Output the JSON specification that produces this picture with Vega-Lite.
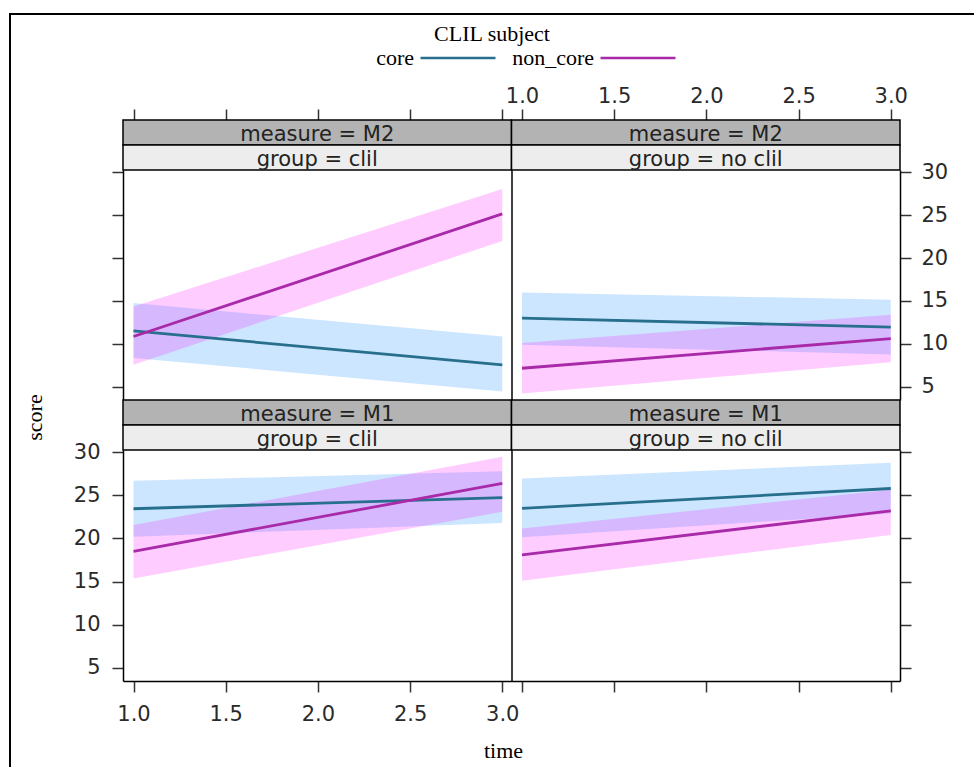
{
  "$schema": "https://vega.github.io/schema/vega-lite/v6.json",
  "width": 972,
  "height": 761,
  "autosize": {"type": "none"},
  "padding": {"left": 10, "top": 14, "right": -8, "bottom": -8},
  "background": "white",
  "config": {
    "view": {"stroke": "black", "strokeWidth": 2},
    "axis": {
      "grid": false,
      "labelFont": "DejaVu Sans",
      "labelFontSize": 21,
      "labelColor": "#2a2a2a",
      "tickColor": "#333333",
      "tickWidth": 1.5,
      "tickSize": 11,
      "domainColor": "black",
      "domainWidth": 1.5,
      "labelFlush": false,
      "labelOverlap": false,
      "titleFont": "Liberation Serif",
      "titleFontSize": 22,
      "titleFontWeight": "normal",
      "titleColor": "black"
    },
    "legend": {
      "orient": "none",
      "legendX": 409,
      "legendY": 10,
      "direction": "horizontal",
      "titleFont": "Liberation Serif",
      "titleFontSize": 22,
      "titleFontWeight": "normal",
      "titleColor": "black",
      "titleAnchor": "middle",
      "titleAlign": "right",
      "titlePadding": -27,
      "labelFont": "Liberation Serif",
      "labelFontSize": 22,
      "labelColor": "black",
      "labelAlign": "right",
      "labelOffset": -83,
      "symbolType": "stroke",
      "symbolSize": 5625,
      "symbolStrokeWidth": 2.5,
      "columnPadding": 11
    }
  },
  "datasets": {
    "fits": [
      {"measure": "M2", "group": "clil", "subject": "core", "time": 1, "fit": 11.5, "lower": 8.35, "upper": 14.75},
      {"measure": "M2", "group": "clil", "subject": "core", "time": 3, "fit": 7.55, "lower": 4.45, "upper": 10.85},
      {"measure": "M2", "group": "clil", "subject": "non_core", "time": 1, "fit": 10.85, "lower": 7.55, "upper": 14.35},
      {"measure": "M2", "group": "clil", "subject": "non_core", "time": 3, "fit": 25.15, "lower": 22.0, "upper": 28.05},
      {"measure": "M2", "group": "no_clil", "subject": "core", "time": 1, "fit": 13.0, "lower": 9.9, "upper": 16.0},
      {"measure": "M2", "group": "no_clil", "subject": "core", "time": 3, "fit": 11.95, "lower": 8.75, "upper": 15.15},
      {"measure": "M2", "group": "no_clil", "subject": "non_core", "time": 1, "fit": 7.15, "lower": 4.2, "upper": 10.1},
      {"measure": "M2", "group": "no_clil", "subject": "non_core", "time": 3, "fit": 10.6, "lower": 7.85, "upper": 13.4},
      {"measure": "M1", "group": "clil", "subject": "core", "time": 1, "fit": 23.45, "lower": 20.2, "upper": 26.7},
      {"measure": "M1", "group": "clil", "subject": "core", "time": 3, "fit": 24.75, "lower": 21.8, "upper": 27.8},
      {"measure": "M1", "group": "clil", "subject": "non_core", "time": 1, "fit": 18.5, "lower": 15.35, "upper": 21.55},
      {"measure": "M1", "group": "clil", "subject": "non_core", "time": 3, "fit": 26.4, "lower": 23.1, "upper": 29.5},
      {"measure": "M1", "group": "no_clil", "subject": "core", "time": 1, "fit": 23.5, "lower": 20.15, "upper": 26.95},
      {"measure": "M1", "group": "no_clil", "subject": "core", "time": 3, "fit": 25.8, "lower": 22.9, "upper": 28.8},
      {"measure": "M1", "group": "no_clil", "subject": "non_core", "time": 1, "fit": 18.1, "lower": 15.1, "upper": 21.15},
      {"measure": "M1", "group": "no_clil", "subject": "non_core", "time": 3, "fit": 23.2, "lower": 20.4, "upper": 25.65}
    ],
    "strips": [
      {"row": "top", "group": "clil", "level": "measure", "label": "measure = M2"},
      {"row": "top", "group": "clil", "level": "group", "label": "group = clil"},
      {"row": "top", "group": "no_clil", "level": "measure", "label": "measure = M2"},
      {"row": "top", "group": "no_clil", "level": "group", "label": "group = no clil"},
      {"row": "bottom", "group": "clil", "level": "measure", "label": "measure = M1"},
      {"row": "bottom", "group": "clil", "level": "group", "label": "group = clil"},
      {"row": "bottom", "group": "no_clil", "level": "measure", "label": "measure = M1"},
      {"row": "bottom", "group": "no_clil", "level": "group", "label": "group = no clil"}
    ]
  },
  "layer": [
    {
      "data": {"name": "strips"},
      "transform": [{"filter": "datum.row === 'top'"}],
      "encoding": {
        "x": {"field": "group", "type": "nominal", "scale": {"domain": ["clil", "no_clil"], "range": [113, 890], "paddingInner": 0, "paddingOuter": 0}, "axis": null},
        "y": {"field": "level", "type": "nominal", "scale": {"domain": ["measure", "group"], "range": [106, 156], "paddingInner": 0, "paddingOuter": 0}, "axis": null}
      },
      "layer": [
        {"mark": {"type": "rect", "stroke": "black", "strokeWidth": 1.5, "opacity": 1},
         "encoding": {"fill": {"condition": {"test": "datum.level === 'measure'", "value": "#b3b3b3"}, "value": "#ededed"}}},
        {"mark": {"type": "text", "font": "DejaVu Sans", "fontSize": 21, "fill": "#222222", "baseline": "alphabetic", "dy": 8.5},
         "encoding": {"text": {"field": "label"}}}
      ]
    },
    {
      "data": {"name": "strips"},
      "transform": [{"filter": "datum.row === 'bottom'"}],
      "encoding": {
        "x": {"field": "group", "type": "nominal", "scale": {"domain": ["clil", "no_clil"], "range": [113, 890], "paddingInner": 0, "paddingOuter": 0}, "axis": null},
        "y": {"field": "level", "type": "nominal", "scale": {"domain": ["measure", "group"], "range": [386, 436], "paddingInner": 0, "paddingOuter": 0}, "axis": null}
      },
      "layer": [
        {"mark": {"type": "rect", "stroke": "black", "strokeWidth": 1.5, "opacity": 1},
         "encoding": {"fill": {"condition": {"test": "datum.level === 'measure'", "value": "#b3b3b3"}, "value": "#ededed"}}},
        {"mark": {"type": "text", "font": "DejaVu Sans", "fontSize": 21, "fill": "#222222", "baseline": "alphabetic", "dy": 8.5},
         "encoding": {"text": {"field": "label"}}}
      ]
    },
    {
      "data": {"name": "fits"},
      "transform": [{"filter": "datum.measure === 'M2' && datum.group === 'clil'"}],
      "encoding": {
        "x": {"field": "time", "type": "quantitative",
              "scale": {"domain": [0.943, 3.05], "range": [113, 501.5], "nice": false, "zero": false},
              "axis": {"orient": "top", "offset": -106, "values": [1, 1.5, 2, 2.5, 3], "labels": false, "domain": false, "title": null}}
      },
      "layer": [
        {"mark": {"type": "area", "fillOpacity": 0.2, "opacity": 1},
         "encoding": {
           "y": {"field": "lower", "type": "quantitative", "scale": {"domain": [3.45, 30.27], "range": [386, 156], "nice": false, "zero": false},
                 "axis": {"orient": "left", "offset": -113, "values": [5, 10, 15, 20, 25, 30], "labels": false, "domain": true, "title": null}},
           "y2": {"field": "upper"},
           "fill": {"field": "subject", "type": "nominal", "scale": {"domain": ["non_core", "core"], "range": ["#ff00ff", "#0080ff"]}, "legend": null}
         }},
        {"mark": {"type": "line", "strokeWidth": 2.8, "opacity": 1},
         "encoding": {
           "y": {"field": "fit", "type": "quantitative", "scale": {"domain": [3.45, 30.27], "range": [386, 156], "nice": false, "zero": false},
                 "axis": {"orient": "left", "offset": -113, "values": [5, 10, 15, 20, 25, 30], "labels": false, "domain": true, "title": null}},
           "stroke": {"field": "subject", "type": "nominal", "scale": {"domain": ["core", "non_core"], "range": ["#276f8c", "#a82aa8"]},
                      "legend": {"title": "CLIL subject"}}
         }}
      ]
    },
    {
      "data": {"name": "fits"},
      "transform": [{"filter": "datum.measure === 'M2' && datum.group === 'no_clil'"}],
      "encoding": {
        "x": {"field": "time", "type": "quantitative",
              "scale": {"domain": [0.943, 3.05], "range": [501.5, 890], "nice": false, "zero": false},
              "axis": {"orient": "top", "offset": -106, "values": [1, 1.5, 2, 2.5, 3], "format": ".1f", "labelPadding": 3, "domain": false, "title": null}}
      },
      "layer": [
        {"mark": {"type": "area", "fillOpacity": 0.2, "opacity": 1},
         "encoding": {
           "y": {"field": "lower", "type": "quantitative", "scale": {"domain": [3.45, 30.27], "range": [386, 156], "nice": false, "zero": false},
                 "axis": {"orient": "right", "offset": -82, "values": [5, 10, 15, 20, 25, 30], "labelPadding": 10, "domain": true, "title": null}},
           "y2": {"field": "upper"},
           "fill": {"field": "subject", "type": "nominal", "scale": {"domain": ["non_core", "core"], "range": ["#ff00ff", "#0080ff"]}, "legend": null}
         }},
        {"mark": {"type": "line", "strokeWidth": 2.8, "opacity": 1},
         "encoding": {
           "y": {"field": "fit", "type": "quantitative", "scale": {"domain": [3.45, 30.27], "range": [386, 156], "nice": false, "zero": false},
                 "axis": {"orient": "left", "offset": -501.5, "ticks": false, "labels": false, "domain": true, "title": null}},
           "stroke": {"field": "subject", "type": "nominal", "scale": {"domain": ["core", "non_core"], "range": ["#276f8c", "#a82aa8"]},
                      "legend": {"title": "CLIL subject"}}
         }}
      ],
      "resolve": {"scale": {"y": "independent"}, "axis": {"y": "independent"}}
    },
    {
      "data": {"name": "fits"},
      "transform": [{"filter": "datum.measure === 'M1' && datum.group === 'clil'"}],
      "encoding": {
        "x": {"field": "time", "type": "quantitative",
              "scale": {"domain": [0.943, 3.05], "range": [113, 501.5], "nice": false, "zero": false},
              "axis": {"orient": "bottom", "offset": -94, "values": [1, 1.5, 2, 2.5, 3], "format": ".1f", "labelPadding": 11, "domain": true,
                       "title": "time", "titleX": 493, "titleY": 69, "titleBaseline": "middle", "titleAlign": "center"}}
      },
      "layer": [
        {"mark": {"type": "area", "fillOpacity": 0.2, "opacity": 1},
         "encoding": {
           "y": {"field": "lower", "type": "quantitative", "scale": {"domain": [3.45, 30.27], "range": [667, 436], "nice": false, "zero": false},
                 "axis": {"orient": "left", "offset": -113, "values": [5, 10, 15, 20, 25, 30], "labelPadding": 12, "domain": true,
                          "title": "score", "titleX": -89, "titleY": 403, "titleBaseline": "middle", "titleAlign": "center", "titleAngle": -90}},
           "y2": {"field": "upper"},
           "fill": {"field": "subject", "type": "nominal", "scale": {"domain": ["non_core", "core"], "range": ["#ff00ff", "#0080ff"]}, "legend": null}
         }},
        {"mark": {"type": "line", "strokeWidth": 2.8, "opacity": 1},
         "encoding": {
           "y": {"field": "fit", "type": "quantitative", "scale": {"domain": [3.45, 30.27], "range": [667, 436], "nice": false, "zero": false},
                 "axis": {"orient": "left", "offset": -113, "values": [5, 10, 15, 20, 25, 30], "labelPadding": 12, "domain": true,
                          "title": "score", "titleX": -89, "titleY": 403, "titleBaseline": "middle", "titleAlign": "center", "titleAngle": -90}},
           "stroke": {"field": "subject", "type": "nominal", "scale": {"domain": ["core", "non_core"], "range": ["#276f8c", "#a82aa8"]},
                      "legend": {"title": "CLIL subject"}}
         }}
      ]
    },
    {
      "data": {"name": "fits"},
      "transform": [{"filter": "datum.measure === 'M1' && datum.group === 'no_clil'"}],
      "encoding": {
        "x": {"field": "time", "type": "quantitative",
              "scale": {"domain": [0.943, 3.05], "range": [501.5, 890], "nice": false, "zero": false},
              "axis": {"orient": "bottom", "offset": -94, "values": [1, 1.5, 2, 2.5, 3], "labels": false, "domain": true, "title": null}}
      },
      "layer": [
        {"mark": {"type": "area", "fillOpacity": 0.2, "opacity": 1},
         "encoding": {
           "y": {"field": "lower", "type": "quantitative", "scale": {"domain": [3.45, 30.27], "range": [667, 436], "nice": false, "zero": false},
                 "axis": {"orient": "right", "offset": -82, "values": [5, 10, 15, 20, 25, 30], "labels": false, "domain": true, "title": null}},
           "y2": {"field": "upper"},
           "fill": {"field": "subject", "type": "nominal", "scale": {"domain": ["non_core", "core"], "range": ["#ff00ff", "#0080ff"]}, "legend": null}
         }},
        {"mark": {"type": "line", "strokeWidth": 2.8, "opacity": 1},
         "encoding": {
           "y": {"field": "fit", "type": "quantitative", "scale": {"domain": [3.45, 30.27], "range": [667, 436], "nice": false, "zero": false},
                 "axis": {"orient": "left", "offset": -501.5, "ticks": false, "labels": false, "domain": true, "title": null}},
           "stroke": {"field": "subject", "type": "nominal", "scale": {"domain": ["core", "non_core"], "range": ["#276f8c", "#a82aa8"]},
                      "legend": {"title": "CLIL subject"}}
         }}
      ],
      "resolve": {"scale": {"y": "independent"}, "axis": {"y": "independent"}}
    }
  ],
  "resolve": {"scale": {"x": "independent", "y": "independent"}, "axis": {"x": "independent", "y": "independent"}}
}
